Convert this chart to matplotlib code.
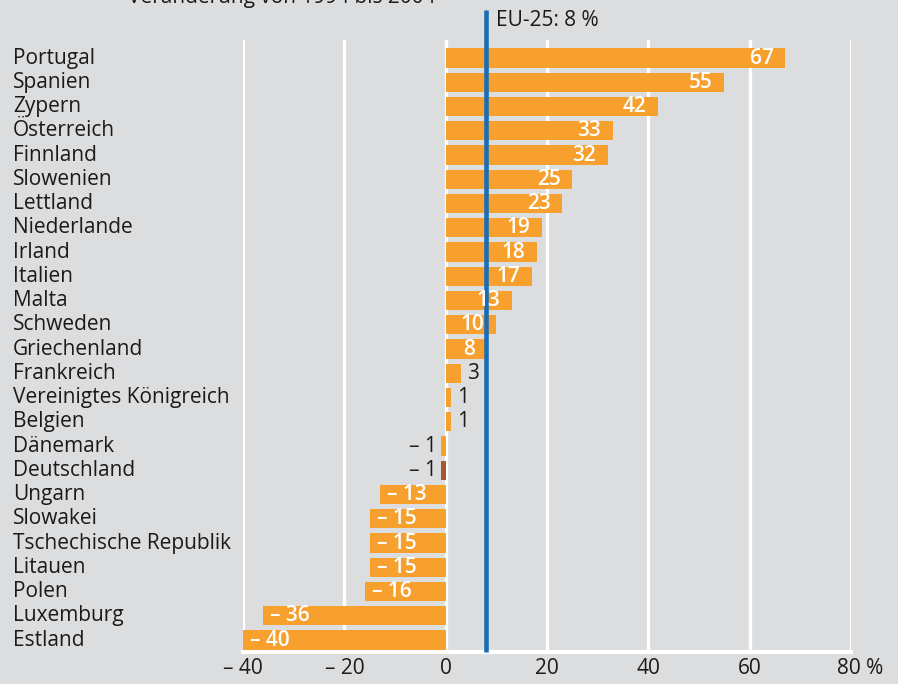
import matplotlib
matplotlib.use("Agg")
import matplotlib.pyplot as plt

countries = ["Portugal", "Spanien", "Zypern", "Österreich", "Finnland", "Slowenien",
             "Lettland", "Niederlande", "Irland", "Italien", "Malta", "Schweden",
             "Griechenland", "Frankreich", "Vereinigtes Königreich", "Belgien",
             "Dänemark", "Deutschland", "Ungarn", "Slowakei", "Tschechische Republik",
             "Litauen", "Polen", "Luxemburg", "Estland"]
values = [67, 55, 42, 33, 32, 25, 23, 19, 18, 17, 13, 10, 8, 3, 1, 1,
          -1, -1, -13, -15, -15, -15, -16, -36, -40]
highlight = "Deutschland"
eu_value = 8
xticks = [-40, -20, 0, 20, 40, 60, 80]
xticklabels = ["– 40", "– 20", "0", "20", "40", "60", "80 %"]
title = "Veränderung von 1994 bis 2004"

W, H = 898, 684
bg = "#dcdddf"
orange = "#f8a02e"
brown = "#a65a2a"
blue = "#1a6db5"
plt.rcParams['font.family'] = ['Open Sans', 'DejaVu Sans']

fig = plt.figure(figsize=(W/100, H/100), dpi=100, facecolor=bg)
x0, x1 = 243, 851
ytop, ybot = 40, 652
ax = fig.add_axes([x0/W, 1-ybot/H, (x1-x0)/W, (ybot-ytop)/H], facecolor=bg)
ax.set_xlim(-40, 80)
step = (640-58)/24
ax.set_ylim(24 + (ybot-640)/step, -(58-ytop)/step)
for s in ax.spines.values():
    s.set_visible(False)
ax.set_xticks([]); ax.set_yticks([])

for t in xticks:
    ax.axvline(t, color="white", lw=2.4, zorder=1)
ax.axhline(ax.get_ylim()[0], color="white", lw=3, zorder=1, clip_on=False)

ypos = list(range(len(countries)))
colors = [brown if c == highlight else orange for c in countries]
ax.barh(ypos, values, height=0.79, color=colors, zorder=2)

fs = 15
pxu = (x1 - x0) / 120.0
for y, c, v in zip(ypos, countries, values):
    ax.text(-40 - (243-13)/pxu, y, c, fontsize=fs, va="center", ha="left", color="#1a1a1a")
    lab = str(v) if v >= 0 else "– " + str(-v)
    if v >= 5:
        ax.text(v - 2.3, y, lab, ha="right", va="center", color="white", fontsize=fs,
                fontweight="semibold", zorder=5)
    elif v >= 0:
        ax.text(v + 1.2, y, lab, ha="left", va="center", color="#1a1a1a", fontsize=fs, zorder=5)
    elif v > -5:
        ax.text(v - 0.8, y, lab, ha="right", va="center", color="#1a1a1a", fontsize=fs, zorder=5)
    else:
        ax.text(v + 1.4, y, lab, ha="left", va="center", color="white", fontsize=fs,
                fontweight="semibold", zorder=5)

ax.plot([eu_value, eu_value], [ax.get_ylim()[0], -(58-10)/step], color=blue, lw=3.3,
        zorder=4, clip_on=False, solid_capstyle="butt")
ax.text(eu_value + 1.9, -(58-20)/step, f"EU-25: {eu_value} %", fontsize=fs, va="center",
        ha="left", color="#1a1a1a")

for t, l in zip(xticks, xticklabels):
    if t == 80:
        ax.text(t - 2.8, 24 + (668-640)/step, l, ha="left", va="center", fontsize=fs, color="#1a1a1a")
    else:
        ax.text(t, 24 + (668-640)/step, l, ha="center", va="center", fontsize=fs, color="#1a1a1a")

fig.text(128/W, 1 + 3/H, title, fontsize=fs, va="center", ha="left", color="#1a1a1a")

fig.savefig("out.png", dpi=100, facecolor=bg)
